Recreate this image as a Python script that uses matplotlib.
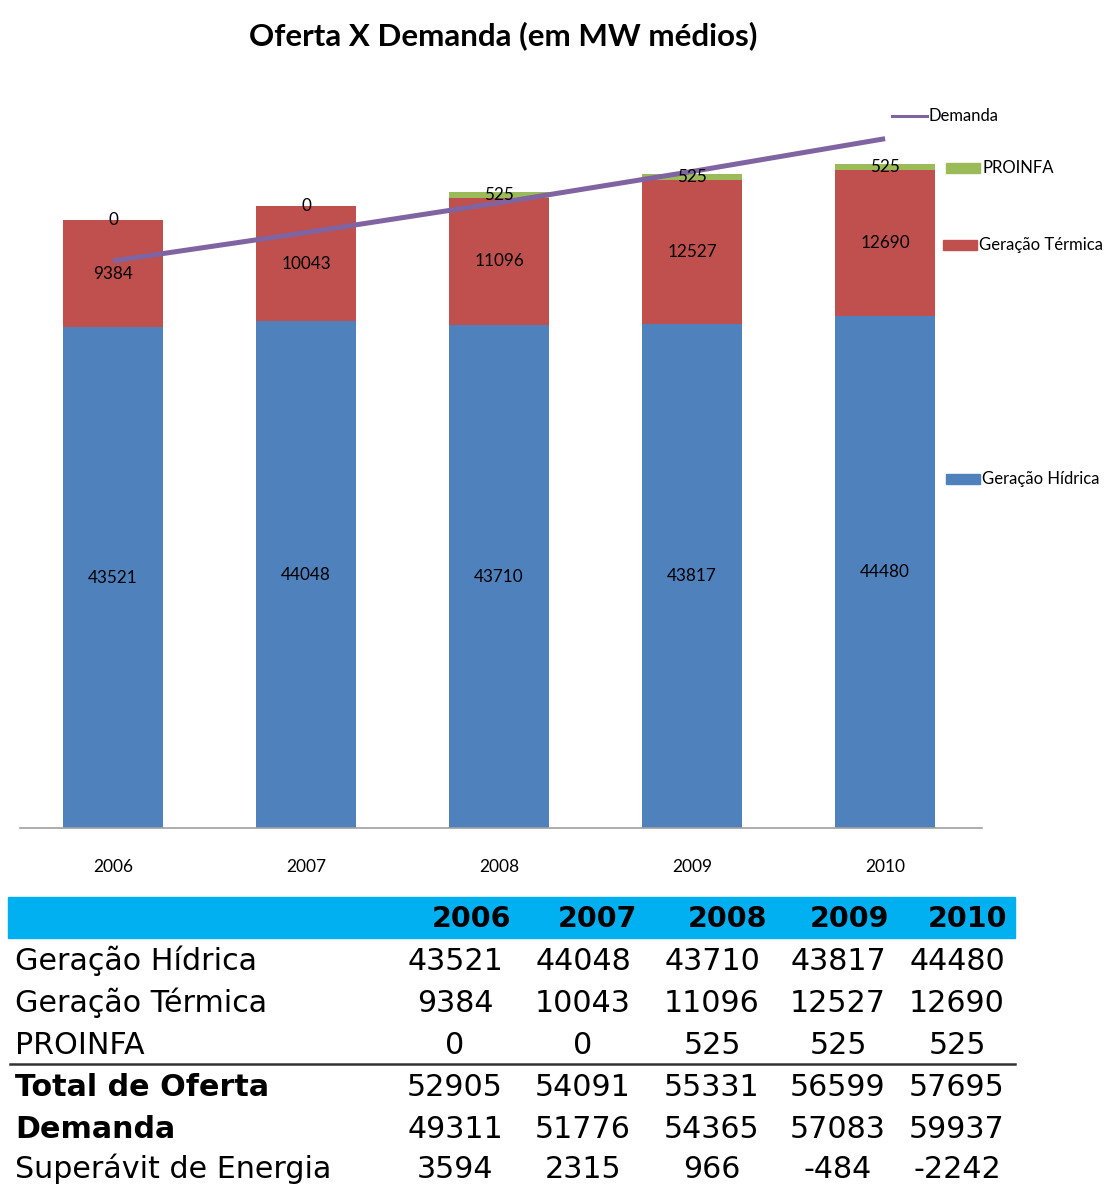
import matplotlib
matplotlib.use("Agg")
import matplotlib.pyplot as plt
from matplotlib.patches import Rectangle
from matplotlib.lines import Line2D
from matplotlib import font_manager

years = ["2006", "2007", "2008", "2009", "2010"]
hidrica = [43521, 44048, 43710, 43817, 44480]
termica = [9384, 10043, 11096, 12527, 12690]
proinfa = [0, 0, 525, 525, 525]
demanda = [49311, 51776, 54365, 57083, 59937]
total_oferta = [52905, 54091, 55331, 56599, 57695]
superavit = [3594, 2315, 966, -484, -2242]

names = {f.name for f in font_manager.fontManager.ttflist}
narrow = 'DejaVu Sans'
for cand in ["DejaVu Sans Condensed", "Liberation Sans Narrow", "Lato"]:
    if cand in names:
        narrow = cand
        break
plt.rcParams['font.family'] = [narrow, 'DejaVu Sans']

W, H = 1105, 1184
fig = plt.figure(figsize=(W / 100, H / 100), dpi=100)

def fx(px):
    return px / W

def fy(py):
    return 1 - py / H

c_blue = "#4F81BD"
c_red = "#C0504D"
c_green = "#9BBB59"
c_purple = "#8064A2"

# main axes: x 20..982 px, y 100..828 px
ax = fig.add_axes([fx(20), fy(828), fx(982) - fx(20), fy(100) - fy(828)])
x = list(range(len(years)))
bw = 0.518
ax.bar(x, hidrica, bw, color=c_blue)
ax.bar(x, termica, bw, bottom=hidrica, color=c_red)
bot3 = [h + t for h, t in zip(hidrica, termica)]
ax.bar(x, proinfa, bw, bottom=bot3, color=c_green)
ax.plot(x, demanda, color=c_purple, lw=3.6, solid_capstyle='butt')
ax.set_xlim(-0.482, 4.502)
ax.set_ylim(0, 63300)
for s in ["top", "right", "left"]:
    ax.spines[s].set_visible(False)
ax.spines["bottom"].set_color("#A0A0A0")
ax.spines["bottom"].set_linewidth(1.2)
ax.set_yticks([])
ax.set_xticks(x)
ax.set_xticklabels(years, fontsize=12.5)
ax.tick_params(axis='x', length=0, pad=22)

lblfs = 12.3
for i in x:
    ax.text(i, hidrica[i] / 2, str(hidrica[i]), ha='center', va='center', fontsize=lblfs)
    ax.text(i, hidrica[i] + termica[i] / 2, str(termica[i]), ha='center', va='center', fontsize=lblfs)
    ax.text(i, bot3[i] + proinfa[i] / 2, str(proinfa[i]), ha='center', va='center', fontsize=lblfs)

# title
fig.text(fx(503), fy(36), "Oferta X Demanda (em MW médios)", ha='center', va='center',
         fontsize=22.5, fontweight='bold')

# legend (manual)
legfs = 12
fig.add_artist(Line2D([fx(892), fx(927)], [fy(116), fy(116)], color=c_purple, lw=2.2))
fig.text(fx(929), fy(116), "Demanda", ha='left', va='center', fontsize=legfs)
for (y0, xl, col, lab) in [(168, 946, c_green, "PROINFA"),
                           (245, 943, c_red, "Geração Térmica"),
                           (479, 946, c_blue, "Geração Hídrica")]:
    fig.add_artist(Rectangle((fx(xl), fy(y0 + 5)), fx(34), 10 / H, color=col,
                             transform=fig.transFigure))
    fig.text(fx(xl + 36), fy(y0), lab, ha='left', va='center', fontsize=legfs)

# table
fig.add_artist(Rectangle((fx(8), fy(938)), fx(1015 - 8), 41 / H, color="#00B0F0",
                         transform=fig.transFigure))
hdr_cx = [471, 597, 727, 849, 968]
for cx, yr in zip(hdr_cx, years):
    fig.text(fx(cx), fy(919), yr, ha='center', va='center', fontsize=20.5,
             fontweight='bold', family='DejaVu Sans')

col_cx = [455, 583, 712, 838, 957]
rows = [("Geração Hídrica", hidrica, 'normal'),
        ("Geração Térmica", termica, 'normal'),
        ("PROINFA", proinfa, 'normal'),
        ("Total de Oferta", total_oferta, 'bold'),
        ("Demanda", demanda, 'bold'),
        ("Superávit de Energia", superavit, 'normal')]
row_y = [961, 1003, 1045, 1087, 1129, 1169]
tfs = 21.7
for (lab, vals, wt), ry in zip(rows, row_y):
    fig.text(fx(15), fy(ry), lab, ha='left', va='center', fontsize=tfs,
             fontweight=wt, family='DejaVu Sans')
    for cx, v in zip(col_cx, vals):
        fig.text(fx(cx), fy(ry), str(v), ha='center', va='center', fontsize=tfs,
                 family='DejaVu Sans')

fig.add_artist(Line2D([fx(10), fx(1015)], [fy(1064), fy(1064)], color="#333333", lw=1.8))

fig.savefig("out.png", dpi=100)
